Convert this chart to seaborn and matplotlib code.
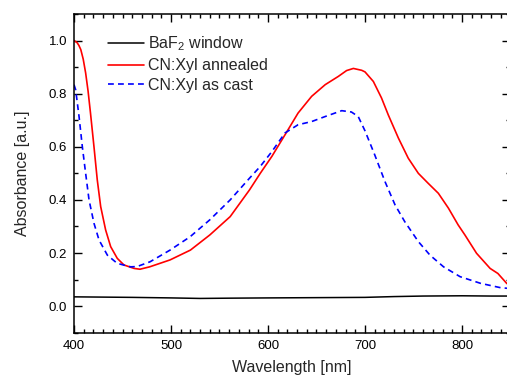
import matplotlib.pyplot as plt
import pandas as pd
import seaborn as sns

# BaF2 window (reference)
wl_window = [400, 430, 460, 500, 530, 560, 600, 650, 700, 730, 760, 800, 830, 850]
abs_window = [0.035, 0.034, 0.033, 0.031, 0.029, 0.030, 0.031, 0.032, 0.033, 0.036,
              0.038, 0.039, 0.038, 0.038]

# CN:Xyl annealed
wl_annealed = [400, 403, 405, 407, 409.5, 412, 414.5, 417, 420.6, 424, 427.5, 432.6,
               437.8, 444.6, 451.5, 462, 468, 478, 499, 520, 540, 561, 581, 592, 604,
               617.5, 631, 645, 659, 672.5, 681, 688, 696.6, 700, 708.6, 717, 724,
               734.4, 744.6, 755, 765, 775.6, 786, 796, 803, 815, 829, 837, 846, 850]
abs_annealed = [1.00, 0.993, 0.982, 0.966, 0.93, 0.878, 0.81, 0.727, 0.60, 0.475, 0.375,
                0.287, 0.224, 0.18, 0.155, 0.142, 0.139, 0.148, 0.174, 0.211, 0.268,
                0.337, 0.438, 0.50, 0.564, 0.645, 0.727, 0.79, 0.834, 0.865, 0.887,
                0.895, 0.888, 0.882, 0.846, 0.784, 0.72, 0.633, 0.557, 0.50, 0.463,
                0.425, 0.369, 0.306, 0.268, 0.199, 0.142, 0.123, 0.086, 0.075]

# CN:Xyl as cast
wl_cast = [400, 401.7, 405.2, 408.6, 412, 415.5, 420.6, 425.8, 434.4, 444.6, 458.4, 465,
           478.4, 499, 519.6, 540, 561, 581, 592, 604, 617.5, 631, 645, 659, 676, 686,
           693, 700, 710, 720.6, 731, 741, 755, 767, 781, 798, 819, 839, 850]
abs_cast = [0.834, 0.815, 0.714, 0.60, 0.50, 0.40, 0.312, 0.249, 0.192, 0.161, 0.148,
            0.149, 0.167, 0.211, 0.261, 0.325, 0.40, 0.482, 0.526, 0.582, 0.652, 0.683,
            0.695, 0.714, 0.736, 0.731, 0.714, 0.66, 0.57, 0.469, 0.381, 0.318, 0.243,
            0.192, 0.148, 0.111, 0.086, 0.07, 0.066]

sns.set_style("ticks")
plt.rcParams["font.family"] = ["Liberation Sans", "DejaVu Sans"]
plt.rcParams["mathtext.fontset"] = "custom"
plt.rcParams["mathtext.rm"] = "Liberation Sans"
plt.rcParams["mathtext.it"] = "Liberation Sans:italic"

fig = plt.figure(figsize=(5.07, 3.77), dpi=100)
ax = fig.add_axes([74 / 507, 1 - 332.7 / 377, 436.5 / 507, 318.7 / 377])

df_win = pd.DataFrame({"wl": wl_window, "a": abs_window})
df_ann = pd.DataFrame({"wl": wl_annealed, "a": abs_annealed})
df_cast = pd.DataFrame({"wl": wl_cast, "a": abs_cast})

sns.lineplot(data=df_win, x="wl", y="a", ax=ax, color="black", lw=1.1,
             label="BaF$_2$ window")
sns.lineplot(data=df_ann, x="wl", y="a", ax=ax, color="#ff0000", lw=1.2,
             label="CN:Xyl annealed")
sns.lineplot(data=df_cast, x="wl", y="a", ax=ax, color="#0000ff", lw=1.2,
             linestyle=(0, (3.5, 2.5)), label="CN:Xyl as cast")

ax.set_xlim(400, 850)
ax.set_ylim(-0.1, 1.1)
ax.set_xticks([400, 500, 600, 700, 800])
ax.set_yticks([0.0, 0.2, 0.4, 0.6, 0.8, 1.0])
ax.set_xticks(range(400, 851, 10), minor=True)
ax.set_yticks([i / 10 for i in range(-1, 12)], minor=True)
ax.tick_params(which="both", direction="in", top=True, right=True,
               labelsize=9.5, width=1, colors="black")
ax.tick_params(which="major", length=6, pad=5)
ax.tick_params(which="minor", length=3)
for s in ax.spines.values():
    s.set_linewidth(1.1)
    s.set_color("black")

ax.set_xlabel("Wavelength [nm]", fontsize=11.5, labelpad=6)
ax.set_ylabel("Absorbance [a.u.]", fontsize=11.5, labelpad=13)

ax.legend(loc="upper left", bbox_to_anchor=(0.079, 0.935), frameon=False,
          fontsize=11.5, handlelength=2.2, handletextpad=0.3,
          labelspacing=0.3, borderpad=0, borderaxespad=0)

fig.savefig("out.png", dpi=100)
